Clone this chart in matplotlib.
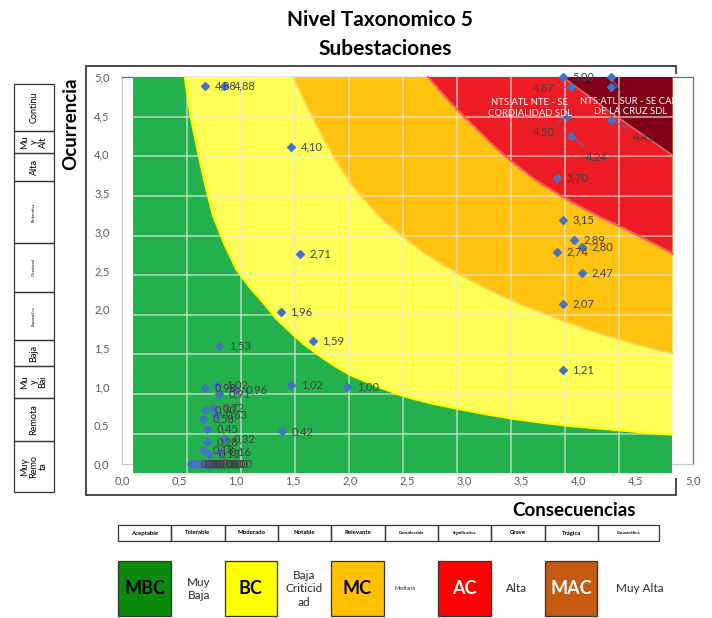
import matplotlib
matplotlib.use("Agg")
import matplotlib.pyplot as plt
from matplotlib.patches import Rectangle, Polygon

plt.rcParams["font.family"] = ["Lato", "DejaVu Sans"]

# scatter points: consequence (x) and occurrence (y)
consecuencias = [0.73, 0.89, 1.48, 1.56, 1.39, 1.67, 0.85, 1.48, 1.97,
                 0.73, 0.83, 0.85, 1.00, 0.73, 0.80, 0.82, 0.71, 0.74,
                 1.40, 0.89, 0.74, 0.71, 0.76, 0.86,
                 0.60, 0.63, 0.66, 0.69, 0.72, 0.75, 0.79, 0.83, 0.87,
                 3.86, 4.28, 3.93, 4.28, 3.90, 3.93, 4.28, 3.81, 3.86,
                 3.96, 4.03, 3.81, 4.03, 3.86, 3.86]
ocurrencia = [4.88, 4.88, 4.10, 2.71, 1.96, 1.59, 1.53, 1.02, 1.00,
              0.98, 1.02, 0.91, 0.96, 0.70, 0.72, 0.63, 0.58, 0.45,
              0.42, 0.32, 0.28, 0.18, 0.13, 0.16,
              0.00, 0.00, 0.00, 0.00, 0.00, 0.00, 0.00, 0.00, 0.00,
              5.00, 5.00, 4.87, 4.87, 4.50, 4.24, 4.45, 3.70, 3.15,
              2.89, 2.80, 2.74, 2.47, 2.07, 1.21]
nombre_sur = "NTS:ATL SUR - SE CAM\nDE LA CRUZ SDL"
nombre_nte = "NTS:ATL NTE - SE\nCORDIALIDAD SDL"

# zone boundaries of the background risk map
verde_x = [0.55, 0.60, 0.67, 0.73, 0.80, 0.90, 1.00, 1.12, 1.24, 1.35, 1.47, 1.60, 1.73,
           1.87, 2.00, 2.24, 2.48, 2.72, 2.95, 3.20, 3.45, 3.70, 3.93, 4.17, 4.40, 4.62, 4.82]
verde_y = [5.00, 4.50, 4.00, 3.60, 3.20, 2.83, 2.52, 2.28, 2.08, 1.88, 1.71, 1.54, 1.40,
           1.26, 1.15, 1.00, 0.87, 0.78, 0.71, 0.64, 0.58, 0.53, 0.49, 0.46, 0.43, 0.40, 0.38]
amarillo_x = [1.50, 1.59, 1.68, 1.78, 1.88, 2.00, 2.14, 2.30, 2.49, 2.66, 2.84, 3.00,
              3.16, 3.31, 3.45, 3.68, 3.90, 4.15, 4.40, 4.62, 4.82]
amarillo_y = [5.00, 4.72, 4.44, 4.16, 3.90, 3.63, 3.38, 3.13, 2.90, 2.71, 2.55, 2.41,
              2.29, 2.18, 2.09, 1.95, 1.83, 1.70, 1.59, 1.50, 1.43]
naranja_x = [2.68, 2.82, 2.96, 3.13, 3.27, 3.40, 3.63, 3.86, 4.04, 4.20, 4.36, 4.60, 4.82]
naranja_y = [5.00, 4.76, 4.54, 4.29, 4.09, 3.92, 3.66, 3.45, 3.30, 3.18, 3.07, 2.89, 2.72]
rojo_x = [3.86, 4.33, 4.82]
rojo_y = [5.00, 4.49, 3.99]

filas_ocurrencia = ["Continu", "Mu\ny\nAlt", "Alta", "Reiterativa", "Ocasional",
                    "Esporadica", "Baja", "Mu\ny\nBai", "Remota", "Muy\nRemo\nta"]
columnas_consecuencia = ["Aceptable", "Tolerable", "Moderado", "Notable", "Relevante",
                         "Considerable", "Significativa", "Grave", "Trágica", "Catastrófica"]
niveles = ["MBC", "BC", "MC", "AC", "MAC"]
niveles_texto = ["Muy\nBaja", "Baja\nCriticid\nad", "Mediana", "Alta", "Muy Alta"]

W, H = 712, 618
fig = plt.figure(figsize=(W / 100, H / 100), dpi=100)


def fx(px):
    return px / W


def fy(py):
    return 1 - py / H


# picture frame behind the chart
fig.patches.append(Rectangle((fx(86), fy(495)), fx(676) - fx(86), fy(66) - fy(495),
                             transform=fig.transFigure, fill=False,
                             edgecolor="#3a3a3a", lw=1.3, zorder=-2))
fig.patches.append(Rectangle((fx(93), fy(478)), fx(706) - fx(93), fy(74) - fy(478),
                             transform=fig.transFigure, facecolor="white",
                             edgecolor="none", zorder=-1))

ax = fig.add_axes([fx(122), fy(464), fx(693) - fx(122), fy(77) - fy(464)])
ax.set_facecolor("none")
ax.set_xlim(0, 5)
ax.set_ylim(0, 5)

# background risk map
x0, x1, y0, y1 = 0.1, 4.82, -0.12, 5.0
ax.add_patch(Rectangle((x0, y0), x1 - x0, y1 - y0, facecolor="#22B14C",
                       edgecolor="none", zorder=3, clip_on=False))
zonas = [(verde_x, verde_y, "#FFFF57", "#FFFF00", 1.6),
         (amarillo_x, amarillo_y, "#FFC20E", "#FFD455", 1.3),
         (naranja_x, naranja_y, "#ED1C24", "#FF6060", 1.6),
         (rojo_x, rojo_y, "#7F0015", "#E0707A", 1.0)]
for bx, by, color, borde, lw in zonas:
    pts = list(zip(bx, by)) + [(x1, y1)]
    ax.add_patch(Polygon(pts, closed=True, facecolor=color, edgecolor="none",
                         zorder=3.1, clip_on=False))
    ax.plot(bx, by, color=borde, lw=lw, zorder=3.3, clip_on=False)

for k in range(1, 10):
    gx = x0 + k * (x1 - x0) / 10
    gy = y0 + k * (y1 - y0) / 10
    ax.plot([gx, gx], [y0, y1], color="#E8E8E8", lw=1.1, alpha=0.75, zorder=3.2, clip_on=False)
    ax.plot([x0, x1], [gy, gy], color="#E8E8E8", lw=1.1, alpha=0.75, zorder=3.2, clip_on=False)

# axes styling
ticks = [i * 0.5 for i in range(11)]
ax.set_xticks(ticks)
ax.set_yticks(ticks)
ax.set_xticklabels([f"{t:.1f}".replace(".", ",") for t in ticks])
ax.set_yticklabels([f"{t:.1f}".replace(".", ",") for t in ticks])
ax.tick_params(length=0, labelsize=8, labelcolor="#595959")
ax.tick_params(axis="x", pad=8)
ax.tick_params(axis="y", pad=9)
for side in ["top", "right"]:
    ax.spines[side].set_color("#4472C4")
    ax.spines[side].set_linewidth(0.9)
for side in ["left", "bottom"]:
    ax.spines[side].set_color("#C8C8C8")
    ax.spines[side].set_linewidth(0.9)

ax.scatter(consecuencias, ocurrencia, marker="D", s=16, color="#4472C4",
           zorder=5, clip_on=False)

# label placement: default is right of the point
especiales = {35: (3.60, 4.86, "left"), 37: (3.60, 4.29, "left"),
              38: (4.06, 3.97, "left"), 39: (4.47, 4.23, "left")}
leader = dict(arrowstyle="-", color="#4472C4", lw=0.8)
for i, (xv, yv) in enumerate(zip(consecuencias, ocurrencia)):
    txt = f"{yv:.2f}".replace(".", ",")
    if i in especiales:
        tx, ty, ha = especiales[i]
        ax.annotate(txt, (xv, yv), xytext=(tx, ty), fontsize=8, color="#404040",
                    va="center", ha=ha, arrowprops=leader, zorder=6,
                    annotation_clip=False)
    elif i == 34:
        ax.annotate(nombre_sur, (xv, yv), xytext=(4.45, 4.62), fontsize=6.8,
                    color="white", ha="center", va="center",
                    arrowprops=leader, zorder=6, annotation_clip=False)
    elif i == 36:
        ax.annotate(nombre_nte, (xv, yv), xytext=(3.57, 4.60), fontsize=6.8,
                    color="white", ha="center", va="center",
                    zorder=6, annotation_clip=False)
    else:
        ax.annotate(txt, (xv, yv), xytext=(7, 0), textcoords="offset points",
                    fontsize=8, color="#404040", va="center", ha="left", zorder=6,
                    annotation_clip=False)

# titles
fig.text(fx(380), fy(20), "Nivel Taxonomico 5", ha="center", va="center",
         fontsize=15, fontweight="bold")
fig.text(fx(385), fy(49), "Subestaciones", ha="center", va="center",
         fontsize=15, fontweight="bold")
fig.text(fx(574), fy(510), "Consecuencias", ha="center", va="center",
         fontsize=13.5, fontweight="bold")
fig.text(fx(71), fy(124), "Ocurrencia", ha="center", va="center", rotation=90,
         fontsize=13.5, fontweight="bold")

# left table: occurrence levels
bordes_filas = [84, 131, 153, 181, 243, 292, 340, 366, 398, 441, 492]
for i, nombre in enumerate(filas_ocurrencia):
    top, bot = bordes_filas[i], bordes_filas[i + 1]
    fig.patches.append(Rectangle((fx(14), fy(bot)), fx(54) - fx(14), fy(top) - fy(bot),
                                 transform=fig.transFigure, fill=False,
                                 edgecolor="#333333", lw=0.9))
    largo = max(len(parte) for parte in nombre.split("\n"))
    size = 3 if largo > 8 else 6.5
    fig.text(fx(34), fy((top + bot) / 2), nombre, rotation=90, ha="center",
             va="center", fontsize=size, linespacing=1.0, multialignment="center")

# bottom table: consequence levels
bordes_col = [118, 171, 224.5, 278, 331, 384.6, 438, 491, 544.7, 598, 659]
for i, nombre in enumerate(columnas_consecuencia):
    left, right = bordes_col[i], bordes_col[i + 1]
    fig.patches.append(Rectangle((fx(left), fy(541)), fx(right) - fx(left), fy(525) - fy(541),
                                 transform=fig.transFigure, fill=False,
                                 edgecolor="#333333", lw=0.9))
    size = 3.2 if len(nombre) > 10 else 4.3
    fig.text(fx((left + right) / 2), fy(533), nombre, ha="center", va="center",
             fontsize=size, fontweight="bold")

# legend boxes
colores_nivel = ["#0B8A0B", "#FFFF00", "#FFC000", "#FF0000", "#C55A11"]
color_texto = ["black", "black", "black", "white", "white"]
cajas = [(118, 171), (224.5, 277), (331, 384), (438, 491), (544.7, 597)]
centros_texto = [199, 304, 405, 517, 640]
for i, nivel in enumerate(niveles):
    left, right = cajas[i]
    fig.patches.append(Rectangle((fx(left), fy(616)), fx(right) - fx(left), fy(561) - fy(616),
                                 transform=fig.transFigure, facecolor=colores_nivel[i],
                                 edgecolor="#333333", lw=0.9))
    fig.text(fx((left + right) / 2), fy(589), nivel, ha="center", va="center",
             fontsize=13, fontweight="bold", color=color_texto[i])
    size = 4 if niveles_texto[i] == "Mediana" else 8.5
    fig.text(fx(centros_texto[i]), fy(589), niveles_texto[i], ha="center",
             va="center", fontsize=size, color="#262626", linespacing=1.3)

fig.savefig("out.png", dpi=100)
